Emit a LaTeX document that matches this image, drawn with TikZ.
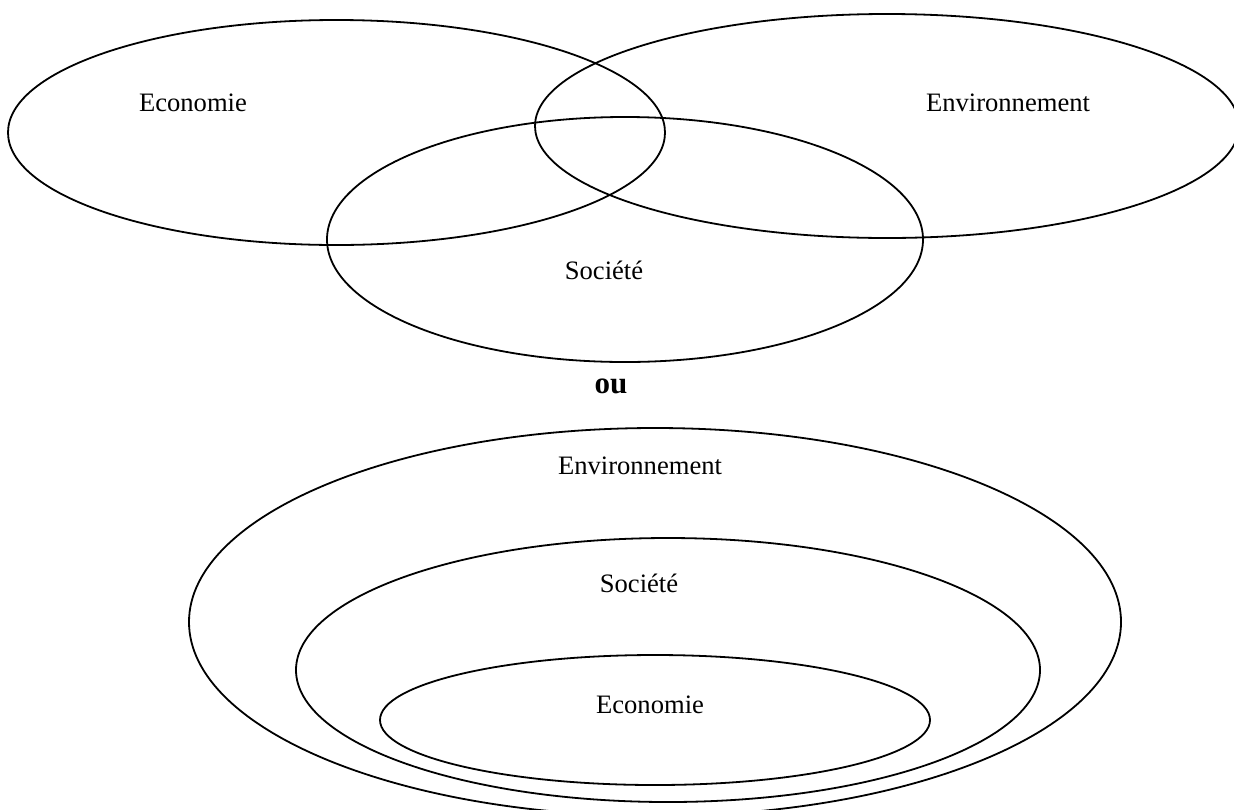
\documentclass[tikz,border=0pt]{standalone}
\usepackage{fontspec}
\setmainfont{Liberation Serif}
\begin{document}
\begin{tikzpicture}[x=0.5pt, y=-0.5pt, line width=0.9pt,
		ring/.style = {draw=black},
		word/.style = {inner sep=0pt, font=\fontsize{13.3}{16}\selectfont},
		conj/.style = {inner sep=0pt, font=\fontsize{15.5}{18}\selectfont\bfseries}]
		
		\useasboundingbox (0,0) rectangle (1234,809);
		\clip (0,0) rectangle (1234,809);
		
		% trois cercles qui se recoupent
		\draw[ring] (336.5,132.5) ellipse [x radius=328.5, y radius=112.5];
		\draw[ring] (887,126) ellipse [x radius=352, y radius=112];
		\draw[ring] (625,239.5) ellipse [x radius=298, y radius=122.5];
		
		\node[word] (eco1) at (193,103) {Economie};
		\node[word] (env1) at (1008,103) {Environnement};
		\node[word] (soc1) at (604,270) {Société};
		
		\node[conj] (ou) at (611,386) {ou};
		
		% cercles emboites
		\draw[ring] (655,622) ellipse [x radius=466, y radius=194];
		\draw[ring] (668,670) ellipse [x radius=372, y radius=132];
		\draw[ring] (655,720) ellipse [x radius=275, y radius=65];
		
		\node[word] (env2) at (640,466) {Environnement};
		\node[word] (soc2) at (639,583) {Société};
		\node[word] (eco2) at (650,705) {Economie};
		
	\end{tikzpicture}
\end{document}
